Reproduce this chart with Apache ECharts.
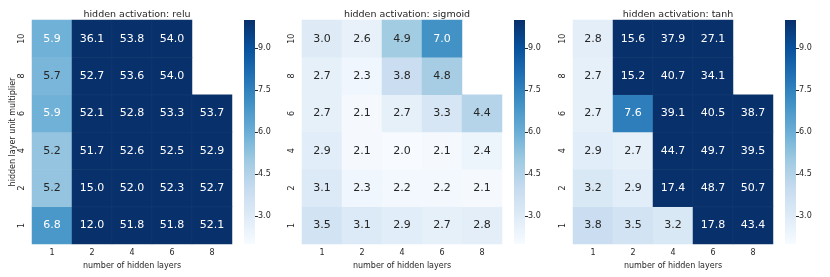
<!DOCTYPE html>
<html><head><meta charset="utf-8">
<script src="https://cdn.jsdelivr.net/npm/echarts@6/dist/echarts.min.js"></script>
<style>html,body{margin:0;padding:0;background:#fff}#c{width:830px;height:277px}</style>
</head><body><div id="c"></div>
<script>
const xCats = ['1','2','4','6','8'];
const yCats = ['1','2','4','6','8','10'];
const titles = ['hidden activation: relu','hidden activation: sigmoid','hidden activation: tanh'];
// rows ordered by yCats (bottom to top), columns by xCats
const reluVals = [
  [6.8,12.0,51.8,51.8,52.1],
  [5.2,15.0,52.0,52.3,52.7],
  [5.2,51.7,52.6,52.5,52.9],
  [5.9,52.1,52.8,53.3,53.7],
  [5.7,52.7,53.6,54.0,null],
  [5.9,36.1,53.8,54.0,null]
];
const sigmoidVals = [
  [3.5,3.1,2.9,2.7,2.8],
  [3.1,2.3,2.2,2.2,2.1],
  [2.9,2.1,2.0,2.1,2.4],
  [2.7,2.1,2.7,3.3,4.4],
  [2.7,2.3,3.8,4.8,null],
  [3.0,2.6,4.9,7.0,null]
];
const tanhVals = [
  [3.8,3.5,3.2,17.8,43.4],
  [3.2,2.9,17.4,48.7,50.7],
  [2.9,2.7,44.7,49.7,39.5],
  [2.7,7.6,39.1,40.5,38.7],
  [2.7,15.2,40.7,34.1,null],
  [2.8,15.6,37.9,27.1,null]
];
const cbarTicks = [3.0,4.5,6.0,7.5,9.0];
const vMin = 2, vMax = 10;

const blues = ['#f7fbff','#deebf7','#c6dbef','#9ecae1','#6baed6','#4292c6','#2171b5','#08519c','#08306b'];
const FONT = 'DejaVu Sans';
const TXT = '#262626';
const panels = [reluVals, sigmoidVals, tanhVals];
const hmLeft = [32, 302, 573];
const cbLeft = [244, 514, 785];
const gTop = 20, gH = 224, gW = 200;

const grid = [], xAxis = [], yAxis = [], series = [], title = [];
panels.forEach((vals, i) => {
  grid.push({left: hmLeft[i], top: gTop, width: gW, height: gH});
  grid.push({left: cbLeft[i], top: gTop, width: 11, height: gH});
  title.push({text: titles[i], left: hmLeft[i] + gW/2, top: 5, textAlign: 'center',
    textStyle: {fontFamily: FONT, fontSize: 9.5, fontWeight: 'normal', color: TXT}});
  const gi = i*2;
  xAxis.push({type:'category', gridIndex: gi, data: xCats, name: 'number of hidden layers',
    nameLocation: 'middle', nameGap: 17, nameTextStyle:{fontFamily:FONT,fontSize:8,color:TXT},
    axisLine:{show:false}, axisTick:{show:false}, splitLine:{show:false},
    axisLabel:{fontFamily:FONT,fontSize:8,color:TXT,margin:5}});
  yAxis.push({type:'category', gridIndex: gi, data: yCats,
    name: i===0 ? 'hidden layer unit multiplier' : '', nameLocation:'middle', nameGap: 15,
    nameTextStyle:{fontFamily:FONT,fontSize:8,color:TXT},
    axisLine:{show:false}, axisTick:{show:false}, splitLine:{show:false},
    axisLabel:{fontFamily:FONT,fontSize:8,color:TXT,rotate:90,margin:6}});
  xAxis.push({type:'category', gridIndex: gi+1, data:[''], show:false});
  yAxis.push({type:'value', gridIndex: gi+1, min: vMin, max: vMax, position:'right',
    axisLine:{show:false}, splitLine:{show:false},
    axisTick:{show:true, length:3, lineStyle:{color:TXT}, customValues: cbarTicks},
    axisLabel:{fontFamily:FONT,fontSize:8,color:TXT,margin:3, customValues: cbarTicks,
      formatter: v => Number(v).toFixed(1)}});
  const data = [];
  vals.forEach((row, yi) => row.forEach((v, xi) => {
    if (v === null) return;
    data.push({value:[xi, yi, v], label:{color: v > 5.8 ? '#ffffff' : TXT}});
  }));
  series.push({type:'heatmap', xAxisIndex: gi, yAxisIndex: gi, data: data,
    itemStyle:{borderColor:'rgba(255,255,255,0.07)', borderWidth:0.5},
    label:{show:true, fontFamily:FONT, fontSize:11, formatter: p => p.value[2].toFixed(1)},
    emphasis:{disabled:true}});
});
// colorbars: stacked bars on the colorbar axes
panels.forEach((vals, i) => {
  const gi = i*2 + 1;
  series.push({type:'bar', xAxisIndex: gi, yAxisIndex: gi, stack:'cb'+i, data:[vMin],
    barWidth:'100%', itemStyle:{color:'rgba(0,0,0,0)'}, silent:true});
  series.push({type:'bar', xAxisIndex: gi, yAxisIndex: gi, stack:'cb'+i, data:[vMax - vMin],
    barWidth:'100%', silent:true,
    itemStyle:{color: new echarts.graphic.LinearGradient(0,0,0,1,
      blues.slice().reverse().map((c,k)=>({offset:k/(blues.length-1), color:c})))}});
});

const chart = echarts.init(document.getElementById('c'), null, {renderer:'canvas'});
chart.setOption({
  animation:false, backgroundColor:'#ffffff',
  title, grid, xAxis, yAxis, series,
  visualMap: {type:'continuous', show:false, min:vMin, max:vMax, seriesIndex:[0,1,2],
    dimension: 2, inRange:{color: blues}}
});
</script></body></html>
